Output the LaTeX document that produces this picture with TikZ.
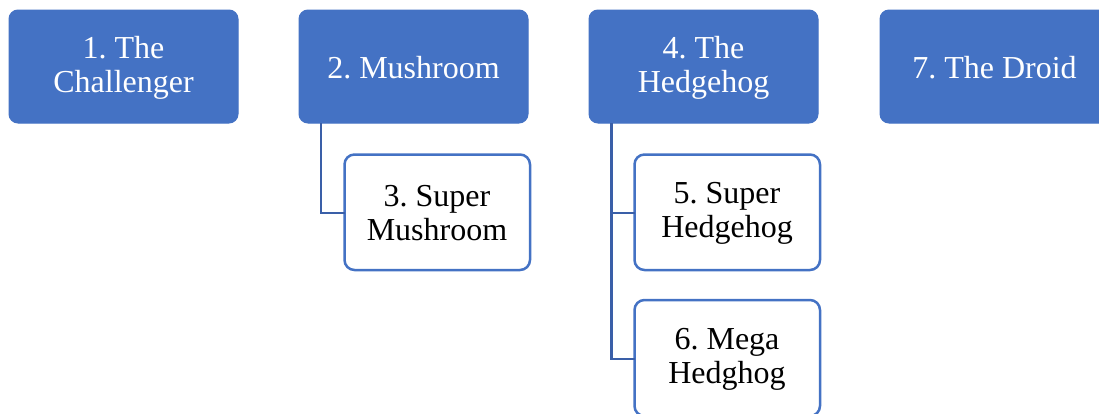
\documentclass[tikz,border=0pt]{standalone}
\usepackage{fontspec}
\setmainfont{Liberation Serif}
\frenchspacing
\definecolor{accent}{HTML}{4472C4}
\definecolor{conn}{HTML}{3A5FA8}
\begin{document}
\begin{tikzpicture}[x=1pt,y=-1pt,
  topbox/.style={fill=accent, draw=accent, line width=1pt, rounded corners=9pt},
  childbox/.style={fill=white, draw=accent, line width=2.5pt, rounded corners=10pt},
  lbl/.style={font=\fontsize{32}{34}\selectfont, align=center, inner sep=0pt},
  conn/.style={draw=conn, line width=2.8pt}]
\useasboundingbox (0,0) rectangle (1099,413);
\coordinate (c2) at (321,123);
\coordinate (c4) at (611.5,123);
% top boxes
\path[topbox] (9,10) rectangle (238,123);
\node[lbl, text=white] (n1) at (123.5,68) {1. The\\Challenger};
\path[topbox] (299,10) rectangle (528,123);
\node[lbl, text=white] (n2) at (413.5,68) {2. Mushroom};
\path[topbox] (589,10) rectangle (818,123);
\node[lbl, text=white] (n4) at (703.5,68) {4. The\\Hedgehog};
\path[topbox] (880,10) rectangle (1109,123);
\node[lbl, text=white] (n7) at (994.5,68) {7. The Droid};
% child boxes
\draw[childbox] (344.5,154.5) rectangle (530,270);
\node[lbl] (n3) at (437,213) {3. Super\\Mushroom};
\draw[childbox] (634.5,154.5) rectangle (820,270);
\node[lbl] (n5) at (727,213) {5. Super\\Hedgehog};
\draw[childbox] (634.5,300) rectangle (820,416);
\node[lbl] (n6) at (727,359) {6. Mega\\Hedghog};
% connectors
\draw[conn] (c2) |- (n3.west -| 344.5,0);
\draw[conn] (c4) |- (n5.west -| 634.5,0);
\draw[conn] (c4) |- (n6.west -| 634.5,0);
\end{tikzpicture}
\end{document}
